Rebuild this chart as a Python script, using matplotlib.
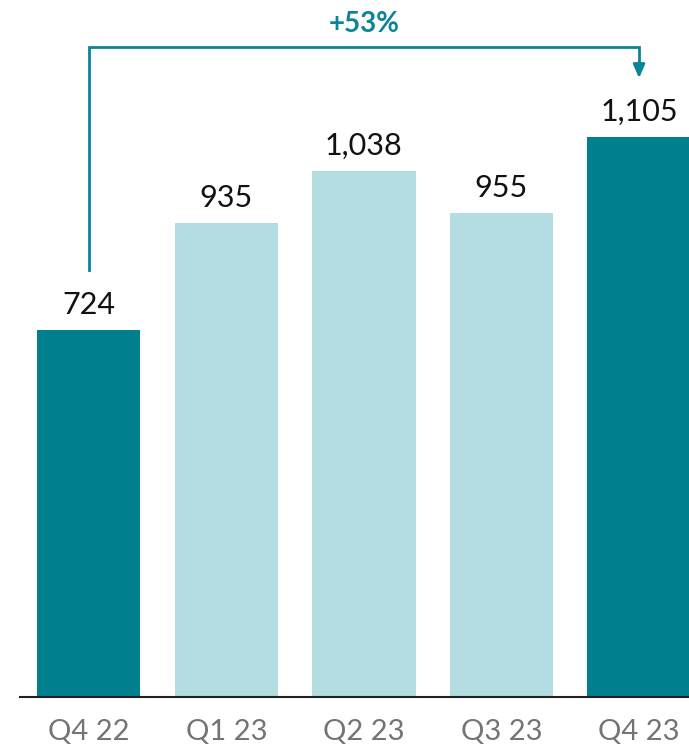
import matplotlib.pyplot as plt

quarters = ["Q4 22", "Q1 23", "Q2 23", "Q3 23", "Q4 23"]
values = [724, 935, 1038, 955, 1105]
labels = ["724", "935", "1,038", "955", "1,105"]
highlight = [True, False, False, False, True]
growth = "+53%"

dark = "#00808f"
light = "#b3dde0"

plt.rcParams['font.family'] = ['Lato', 'DejaVu Sans']

fig = plt.figure(figsize=(6.89, 7.47), dpi=100)
ax = fig.add_axes([20 / 689, 50 / 747, 669 / 689, 697 / 747])

x = list(range(len(values)))
colors = [dark if h else light for h in highlight]
ax.bar(x, values, width=0.75, color=colors)

for xi, v, lab in zip(x, values, labels):
    ax.annotate(lab, (xi, v), xytext=(0, 8), textcoords="offset points",
                ha="center", va="bottom", fontsize=22, color="#111111")

ax.set_xlim(-0.5, 4.363)
ax.set_ylim(0, 1375)

# bracket from first to last bar
y_top = 1282
ax.plot([0, 0, 4, 4], [842, y_top, y_top, 1250], color="#0a8595", lw=2,
        solid_joinstyle="miter", clip_on=False)
ax.annotate("", xy=(4, 1221), xytext=(4, 1252),
            arrowprops=dict(arrowstyle="-|>,head_width=0.35,head_length=0.8",
                            color="#0a8595", lw=2, shrinkA=0, shrinkB=0))
ax.text(2, 1328, growth, ha="center", va="center", fontsize=20,
        fontweight="bold", color="#0a8595")

ax.set_xticks(x)
ax.set_xticklabels(quarters, fontsize=21, color="#747474")
ax.tick_params(axis="x", length=0, pad=16)
ax.set_yticks([])
for s in ["top", "right", "left"]:
    ax.spines[s].set_visible(False)
ax.spines["bottom"].set_color("#222222")
ax.spines["bottom"].set_linewidth(1.5)

fig.savefig("out.png", dpi=100)
